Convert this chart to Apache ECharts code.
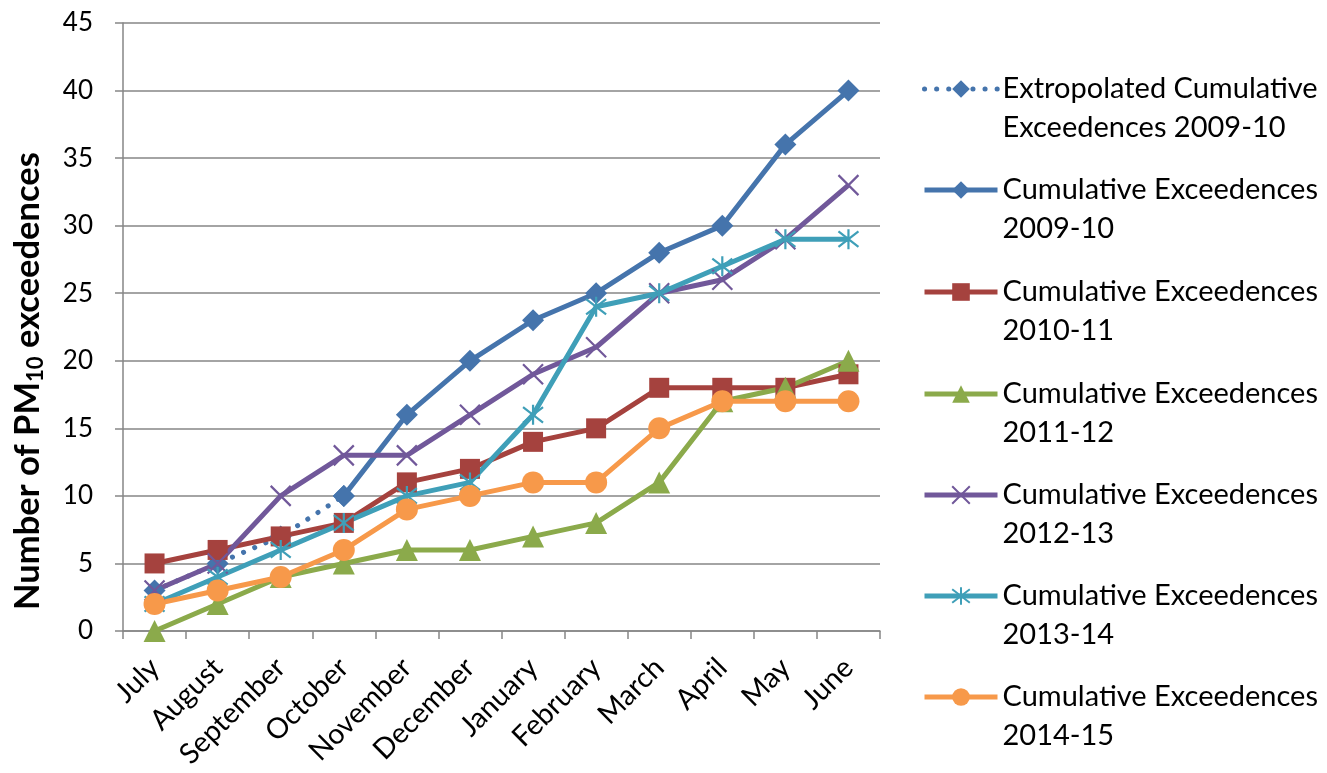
<!DOCTYPE html>
<html><head><meta charset="utf-8">
<script src="https://cdn.jsdelivr.net/npm/echarts@6/dist/echarts.min.js"></script>
<style>html,body{margin:0;padding:0;background:#fff}#c{width:1327px;height:773px}</style>
</head><body><div id="c"></div>
<script>
const months = ['July','August','September','October','November','December','January','February','March','April','May','June'];
const yTicks = {min:0, max:45, interval:5};
const extrap0910 = [3,5,7,10,null,null,null,null,null,null,null,null];
const cum0910 = [null,null,null,10,16,20,23,25,28,30,36,40];
const cum1011 = [5,6,7,8,11,12,14,15,18,18,18,19];
const cum1112 = [0,2,4,5,6,6,7,8,11,17,18,20];
const cum1213 = [3,5,10,13,13,16,19,21,25,26,29,33];
const cum1314 = [2,4,6,8,10,11,16,24,25,27,29,29];
const cum1415 = [2,3,4,6,9,10,11,11,15,17,17,17];
const names = ['Extropolated Cumulative Exceedences 2009-10','Cumulative Exceedences 2009-10','Cumulative Exceedences 2010-11','Cumulative Exceedences 2011-12','Cumulative Exceedences 2012-13','Cumulative Exceedences 2013-14','Cumulative Exceedences 2014-15'];
const legendText = {
  'Extropolated Cumulative Exceedences 2009-10':'Extropolated Cumulative\nExceedences 2009-10',
  'Cumulative Exceedences 2009-10':'Cumulative Exceedences\n2009-10',
  'Cumulative Exceedences 2010-11':'Cumulative Exceedences\n2010-11',
  'Cumulative Exceedences 2011-12':'Cumulative Exceedences\n2011-12',
  'Cumulative Exceedences 2012-13':'Cumulative Exceedences\n2012-13',
  'Cumulative Exceedences 2013-14':'Cumulative Exceedences\n2013-14',
  'Cumulative Exceedences 2014-15':'Cumulative Exceedences\n2014-15'
};
const FONT = 'Lato';
const blue='#4574AC', red='#A5423E', green='#8BAA4B', purple='#71589A', teal='#3F9FB8', orange='#F7994A';
const xPath='path://M0,0L10,10M10,0L0,10';
const starPath='path://M0,0L10,10M10,0L0,10M5,-1.5L5,11.5';
function mk(name, data, color, symbol, size, extra){
  const s = {name, type:'line', data, symbol, symbolSize:size, showAllSymbol:true,
    lineStyle:{color, width:5}, itemStyle:{color}, animation:false, connectNulls:false};
  return Object.assign(s, extra||{});
}
const series = [
  mk(names[0], extrap0910, blue, 'diamond', 22, {lineStyle:{color:blue,width:5,type:[0.1,12],cap:'round'}}),
  mk(names[1], cum0910, blue, 'diamond', 22),
  mk(names[2], cum1011, red, 'rect', 20),
  mk(names[3], cum1112, green, 'triangle', 22),
  mk(names[4], cum1213, purple, xPath, 20, {itemStyle:{color:purple,borderColor:purple,borderWidth:2.2}}),
  mk(names[5], cum1314, teal, starPath, 20, {itemStyle:{color:teal,borderColor:teal,borderWidth:2.2}}),
  mk(names[6], cum1415, orange, 'circle', 22)
];
const legendCenters = [89,190,292,394,495,596,697];
const legends = names.map((n,i)=>({
  data:[n], orient:'vertical', left:922, top:legendCenters[i]-58.5, padding:0,
  itemWidth:73, itemHeight:22,
  lineStyle:{width:5},
  formatter: v=>' \n'+legendText[v],
  textStyle:{fontFamily:FONT, fontSize:29, color:'#000', lineHeight:39, padding:[0,0,0,0]},
  selectedMode:false
}));
const chart = echarts.init(document.getElementById('c'));
chart.setOption({
  backgroundColor:'#fff',
  animation:false,
  grid:{left:123, right:447, top:23, bottom:142},
  legend: legends,
  graphic:[{type:'text', x:28, y:381, rotation:Math.PI/2,
    style:{text:'{b|Number of PM}{s|10}{b| exceedences}', align:'center', verticalAlign:'middle',
      rich:{b:{fontFamily:FONT, fontSize:34.5, fontWeight:'bold', fill:'#000', lineHeight:42},
            s:{fontFamily:FONT, fontSize:22, fontWeight:'bold', fill:'#000', lineHeight:42, padding:[15,0,0,0]}}}}],
  xAxis:{type:'category', data:months, boundaryGap:true,
    axisLine:{lineStyle:{color:'#868686', width:1.5}},
    axisTick:{show:true, length:8, alignWithLabel:false, lineStyle:{color:'#868686', width:1.5}},
    axisLabel:{rotate:45, fontFamily:FONT, fontSize:28.5, color:'#000', margin:32, interval:0}},
  yAxis:{type:'value', min:yTicks.min, max:yTicks.max, interval:yTicks.interval,
    axisLine:{show:true, lineStyle:{color:'#868686', width:1.5}},
    axisTick:{show:true, length:8, lineStyle:{color:'#868686', width:1.5}},
    splitLine:{lineStyle:{color:'#868686', width:1.5}},
    axisLabel:{fontFamily:FONT, fontSize:26, color:'#000', margin:30}},
  series
});
</script></body></html>
